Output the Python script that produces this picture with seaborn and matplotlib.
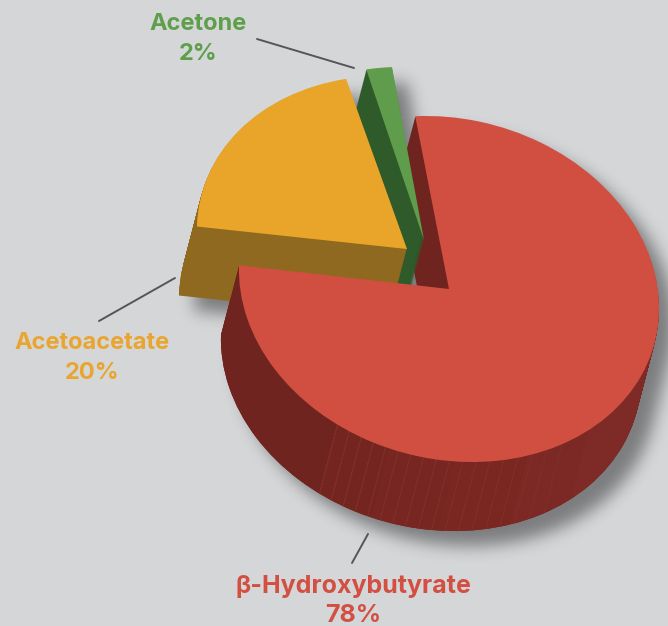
import numpy as np
import seaborn as sns
import matplotlib
matplotlib.use("Agg")
import matplotlib.pyplot as plt
from matplotlib.path import Path
from matplotlib.transforms import Affine2D

sns.set_theme(style = "white")
plt.rcParams["font.family"] = ["Inter", "DejaVu Sans"]

# Values
names = ["β-Hydroxybutyrate", "Acetoacetate", "Acetone"]
shares = [78, 20, 2]

# Colours
bg = "#d5d6d8"
top_colors = ["#d14f41", "#e9a52a", "#5f9c4b"]
side_colors = ["#70241f", "#906920", "#2f5a2a"]
label_colors = ["#d24f42", "#e9a52f", "#5f9f4c"]
band_colors = ["#752520", "#782621", "#7a2722", "#7c2824", "#7e2a26"]
hair_color = "#802e29"
label_sizes = [18, 17, 17]

# Tilted disc, in pixels of the 668x626 picture
W, H = 668, 626
tilt = (209.8, -10.46, -10.46, 172.7)
start_angle = 95.6
nudges = [0.8, 1.2, 0.3]
apexes = [(449, 289), (407, 249), (424, 240)]
depth = 69
slant = 18 / 69


def add_sector(ax, i, d, color, z, clip = None):
    wedges, _ = ax.pie(
        shares, startangle = start_angle + nudges[i], counterclock = False,
        colors = [color] * 3, wedgeprops = dict(linewidth = 0)
    )
    for j, w in enumerate(wedges):
        if j != i:
            w.remove()
    w = wedges[i]
    x, y = apexes[i]
    a, b, c, e = tilt
    m = Affine2D.from_values(a, b, c, e, x - d * slant, H - y - d)
    w.set_transform(m + ax.transData)
    w.set_zorder(z)
    if clip is not None:
        # pie wedges come with clipping switched off
        w.set_clip_on(True)
        w.set_clip_path(clip, ax.transData)
    return w


def add_side(ax, i, color, z, clip = None):
    for d in range(depth, 0, -1):
        add_sector(ax, i, d, color, z, clip)


def band(x0, x1, py0, py1):
    # slanted strip of the wall, edges given at y = 425
    s = lambda x, py: (x - (py - 425) * slant, H - py)
    return Path([s(x0, py0), s(x1, py0), s(x1, py1), s(x0, py1), s(x0, py0)], closed = True)


def fit(ax):
    ax.set_xlim(0, W)
    ax.set_ylim(0, H)
    ax.set_aspect("auto")
    ax.set_axis_off()


# Soft shadow: draw the solid shape off screen, then blur it
sfig = plt.figure(figsize = (W / 100, H / 100), dpi = 100, facecolor = "white")
sax = sfig.add_axes([0, 0, 1, 1])
for i in range(3):
    add_side(sax, i, "black", 1)
    add_sector(sax, i, 0, "black", 1)
fit(sax)
sfig.canvas.draw()
mask = 1 - np.asarray(sfig.canvas.buffer_rgba())[:, :, 0] / 255
plt.close(sfig)

sigma = 8
kx = np.arange(-24, 25)
kernel = np.exp(-kx ** 2 / (2 * sigma ** 2))
kernel = kernel / kernel.sum()
blur = np.apply_along_axis(np.convolve, 0, mask, kernel, mode = "same")
blur = np.apply_along_axis(np.convolve, 1, blur, kernel, mode = "same")
shadow = np.zeros(mask.shape + (4,))
shadow[:, :, 3] = blur * 0.42

# Figure
fig = plt.figure(figsize = (W / 100, H / 100), dpi = 100, facecolor = bg)
ax = fig.add_axes([0, 0, 1, 1])
ax.imshow(shadow, extent = (15, W + 15, -15, H - 15), zorder = 0, aspect = "auto")

# Red wall behind the other two slices
add_side(ax, 0, side_colors[0], 1)

# Acetone, then Acetoacetate
add_side(ax, 2, side_colors[2], 2)
add_sector(ax, 2, 0, top_colors[2], 3)
add_side(ax, 1, side_colors[1], 4)
add_sector(ax, 1, 0, top_colors[1], 5)

# Red outer side in front, darker to the left
edges = [337, 395, 465, 535, 590, 700]
add_side(ax, 0, side_colors[0], 6, band(150, edges[0], 200, 600))
for k, col in enumerate(band_colors):
    add_side(ax, 0, col, 6 + (k + 1) * 0.1, band(edges[k], edges[k + 1], 295, 600))

# Faint vertical seams on the lit part of the side
seams = Path.make_compound_path(*[band(x, x + 0.8, 295, 600) for x in np.arange(337, 580, 13.5)])
add_side(ax, 0, hair_color, 7, seams)
add_sector(ax, 0, 0, top_colors[0], 8)
fit(ax)

# Labels and leader lines
label_pos = [(353, 587, 616), (92, 343, 373), (198, 24, 54)]
leaders = [((352, 563), (368, 534)), ((99, 321), (175, 278)), ((257, 39), (354, 68))]
for i in range(3):
    x, y0, y1 = label_pos[i]
    ax.text(x, H - y0, names[i], color = label_colors[i], fontsize = label_sizes[i], fontweight = "bold",
            ha = "center", va = "center", zorder = 10)
    ax.text(x, H - y1, f"{shares[i]}%", color = label_colors[i], fontsize = label_sizes[i], fontweight = "bold",
            ha = "center", va = "center", zorder = 10)
    (x0, y0), (x1, y1) = leaders[i]
    ax.plot([x0, x1], [H - y0, H - y1], color = "#555659", lw = 1.4, zorder = 9)

fig.savefig("out.png", dpi = 100, facecolor = bg)
